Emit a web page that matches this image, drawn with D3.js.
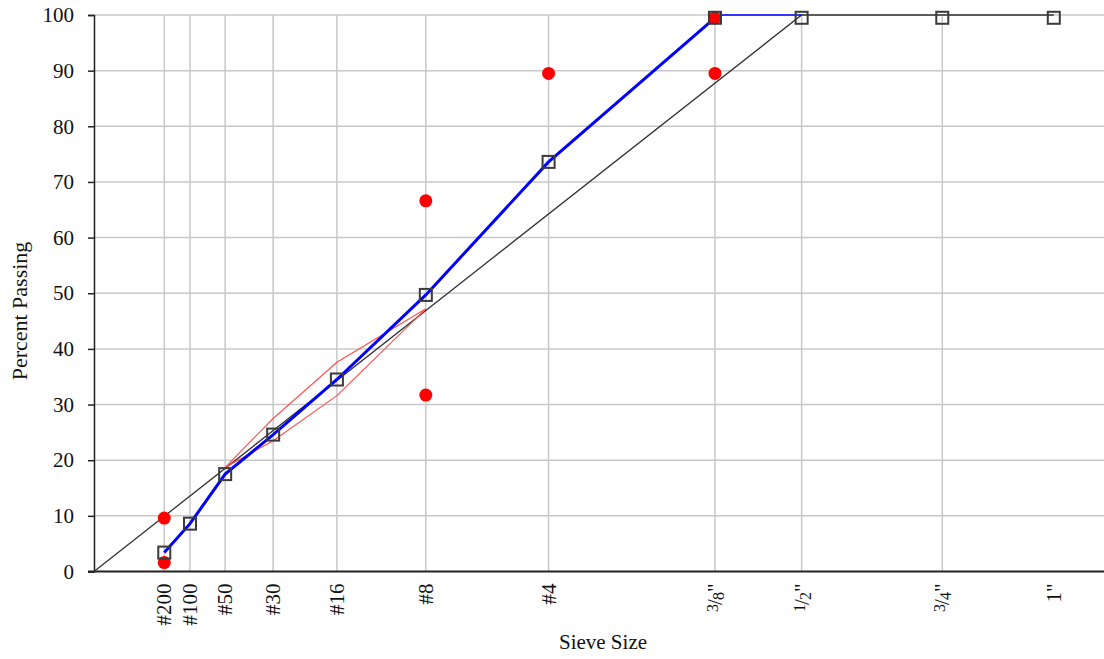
<!DOCTYPE html>
<html>
<head>
<meta charset="utf-8">
<script src="https://cdn.jsdelivr.net/npm/d3@7"></script>
<style>
  html, body { margin: 0; padding: 0; background: #fff; }
  svg { display: block; }
  text { font-family: "Liberation Serif", "Times New Roman", serif; fill: #111; }
</style>
</head>
<body>
<svg id="chart" width="1104" height="659"></svg>
<script>
// Sieve sizes (mm) and their labels, plotted on a 0.45 power scale.
// Fractional inch labels are given as [numerator, denominator, suffix].
const sieveLabels = ["#200", "#100", "#50", "#30", "#16", "#8", "#4", ["3", "8", "\""], ["1", "2", "\""], ["3", "4", "\""], "1\""];
const sieveSizes  = [0.075, 0.15, 0.3, 0.6, 1.18, 2.36, 4.75, 9.5, 12.7, 19, 25];
const gridSieves  = [0.075, 0.15, 0.3, 0.6, 1.18, 2.36, 4.75, 9.5, 12.7, 19];

// Aggregate gradation (percent passing)
const gradation = [3.4, 8.6, 17.5, 24.6, 34.5, 49.7, 73.6, 99.5, 99.5, 99.5, 99.5];

// Control points
const controlSizes  = [0.075, 0.075, 2.36, 2.36, 4.75, 9.5, 9.5];
const controlValues = [1.6, 9.6, 31.7, 66.6, 89.5, 89.5, 99.5];

// Restricted zone outline
const zoneSizes  = [0.3, 0.6, 1.18, 2.36, 1.18, 0.6, 0.3];
const zoneValues = [18.7, 27.5, 37.6, 47.2, 31.6, 23.5, 18.7];

// Maximum density line
const maxDensitySizes  = [0, 12.7, 25];
const maxDensityValues = [0, 100, 100];

// Upper limit segment across the top
const topSizes  = [9.5, 12.7];
const topValues = [100, 100];

const yTicks = [0, 10, 20, 30, 40, 50, 60, 70, 80, 90, 100];

const svg = d3.select("#chart");
const plotLeft = 94, plotRight = 1104, plotTop = 15, plotBottom = 571.5;

const x = d3.scalePow().exponent(0.45).domain([0, 28]).range([plotLeft, plotRight]);
const y = d3.scaleLinear().domain([0, 100]).range([plotBottom, plotTop]);

// Gridlines
svg.append("g").selectAll("line").data(yTicks.filter(d => d > 0)).join("line")
  .attr("x1", plotLeft).attr("x2", plotRight)
  .attr("y1", d => y(d)).attr("y2", d => y(d))
  .attr("stroke", "#c8c8c8").attr("stroke-width", 1.5);
svg.append("g").selectAll("line").data(gridSieves).join("line")
  .attr("x1", d => x(d)).attr("x2", d => x(d))
  .attr("y1", plotTop).attr("y2", plotBottom)
  .attr("stroke", "#c8c8c8").attr("stroke-width", 1.5);

// Y axis
const yAxis = svg.append("g").attr("transform", `translate(${plotLeft},0)`)
  .call(d3.axisLeft(y).tickValues(yTicks).tickSize(6).tickPadding(14));
yAxis.select(".domain").attr("stroke", "#222").attr("stroke-width", 1.5);
yAxis.selectAll(".tick line").attr("stroke", "#222").attr("stroke-width", 1.5);
yAxis.selectAll(".tick text").attr("font-size", 21)
  .attr("font-family", "Liberation Serif, serif").attr("fill", "#111");

// X axis baseline
svg.append("line").attr("x1", plotLeft - 6).attr("x2", plotRight)
  .attr("y1", plotBottom).attr("y2", plotBottom)
  .attr("stroke", "#222").attr("stroke-width", 2);

// X tick labels, rotated; fractions built from small raised/lowered digits
const xLabels = svg.append("g").selectAll("text").data(sieveSizes).join("text")
  .attr("transform", d => `translate(${x(d)},${plotBottom + 12}) rotate(-90)`)
  .attr("text-anchor", "end").attr("dominant-baseline", "central")
  .attr("font-size", 21);
xLabels.each(function(d, i) {
  const lab = sieveLabels[i];
  const t = d3.select(this);
  if (typeof lab === "string") { t.text(lab); return; }
  t.append("tspan").attr("font-size", 16).attr("dy", -3).text(lab[0]);
  t.append("tspan").attr("font-size", 21).attr("dy", 3).attr("dx", -1).text("/");
  t.append("tspan").attr("font-size", 16).attr("dy", 3).attr("dx", -1).text(lab[1]);
  t.append("tspan").attr("font-size", 21).attr("dy", -3).text(lab[2]);
});

// Axis titles
svg.append("text").attr("transform", "translate(19,311) rotate(-90)")
  .attr("text-anchor", "middle").attr("dominant-baseline", "central")
  .attr("font-size", 22).text("Percent Passing");
svg.append("text").attr("x", 603).attr("y", 649)
  .attr("text-anchor", "middle").attr("font-size", 21).text("Sieve Size");

const line = d3.line().x(d => x(d[0])).y(d => y(d[1]));

// Maximum density line
svg.append("path").datum(d3.zip(maxDensitySizes, maxDensityValues))
  .attr("d", line).attr("fill", "none").attr("stroke", "#333").attr("stroke-width", 1.3);

// Restricted zone
svg.append("path").datum(d3.zip(zoneSizes, zoneValues))
  .attr("d", line).attr("fill", "none").attr("stroke", "#ff5050").attr("stroke-width", 1.2);

// Top limit segment
svg.append("path").datum(d3.zip(topSizes, topValues))
  .attr("d", line).attr("fill", "none").attr("stroke", "#0000ff").attr("stroke-width", 1.5);

// Gradation line (thick part up to 3/8")
svg.append("path").datum(d3.zip(sieveSizes, gradation).slice(0, 8))
  .attr("d", line).attr("fill", "none").attr("stroke", "#0000ff").attr("stroke-width", 3);

// Control points
svg.append("g").selectAll("circle").data(d3.zip(controlSizes, controlValues)).join("circle")
  .attr("cx", d => x(d[0])).attr("cy", d => y(d[1])).attr("r", 6.5).attr("fill", "#ff0000");

// Gradation markers
svg.append("g").selectAll("rect").data(d3.zip(sieveSizes, gradation)).join("rect")
  .attr("x", d => x(d[0]) - 6).attr("y", d => y(d[1]) - 6)
  .attr("width", 12).attr("height", 12)
  .attr("fill", "none").attr("stroke", "#3a3a3a").attr("stroke-width", 2);
</script>
</body>
</html>
